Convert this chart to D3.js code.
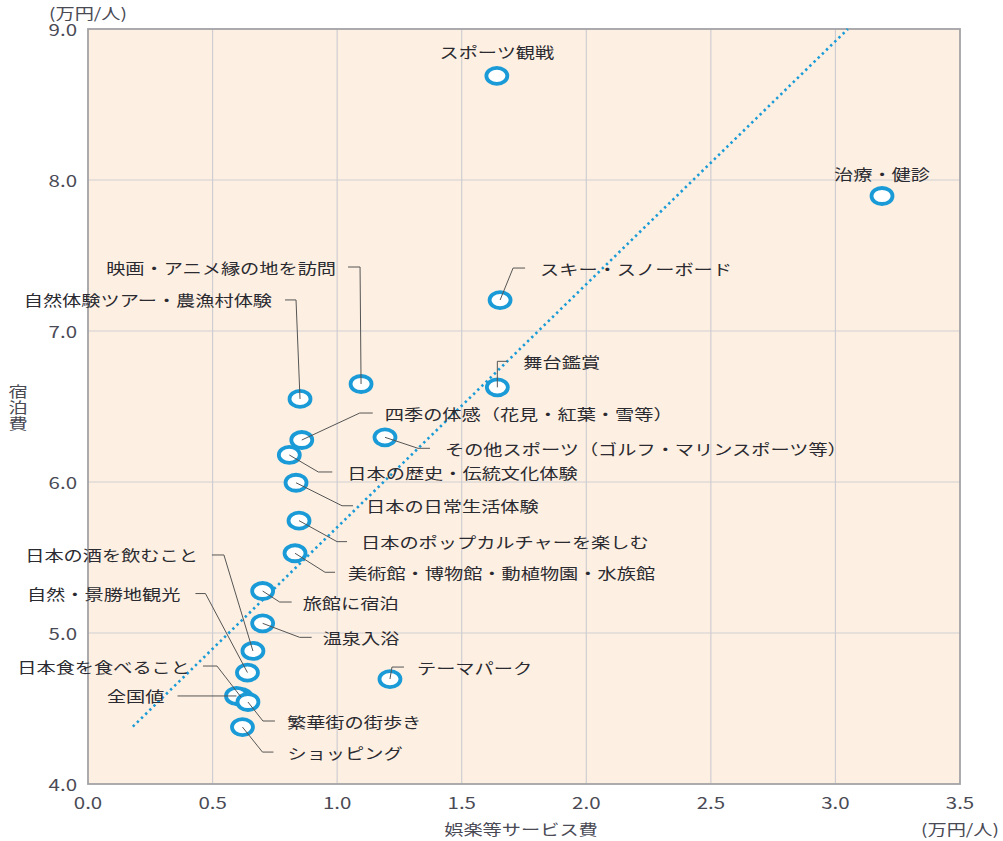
<!DOCTYPE html>
<html>
<head>
<meta charset="utf-8">
<script src="https://cdn.jsdelivr.net/npm/d3@7"></script>
<style>
  body { margin: 0; background: #fff; }
  text { font-family: "Noto Sans CJK JP", "Noto Sans", sans-serif; }
</style>
</head>
<body>
<svg id="main-svg" width="1003" height="841"></svg>
<script>
'use strict';

const categories = [
    'スポーツ観戦', '治療・健診', 'スキー・スノーボード', '映画・アニメ縁の地を訪問',
    '自然体験ツアー・農漁村体験', '舞台鑑賞', '四季の体感（花見・紅葉・雪等）',
    'その他スポーツ（ゴルフ・マリンスポーツ等）', '日本の歴史・伝統文化体験',
    '日本の日常生活体験', '日本のポップカルチャーを楽しむ',
    '美術館・博物館・動植物園・水族館', '旅館に宿泊', '温泉入浴', '日本の酒を飲むこと',
    '自然・景勝地観光', '日本食を食べること', '全国値', '繁華街の街歩き',
    'ショッピング', 'テーマパーク',
];
// 娯楽等サービス費 (万円/人)
const entertainment = [
    1.641, 3.187, 1.654, 1.096, 0.851, 1.643, 0.858, 1.192, 0.808, 0.835, 0.847,
    0.831, 0.701, 0.701, 0.662, 0.640, 0.614, 0.596, 0.642, 0.620, 1.212,
];
// 宿泊費 (万円/人)
const lodging = [
    8.69, 7.894, 7.205, 6.649, 6.55, 6.627, 6.278, 6.296, 6.179, 5.995, 5.744,
    5.528, 5.278, 5.064, 4.881, 4.738, 4.576, 4.583, 4.543, 4.377, 4.695,
];
const trend_x = [0.18, 3.05];
const trend_y = [4.38, 9.0];
const x_ticks = [0, 0.5, 1.0, 1.5, 2.0, 2.5, 3.0, 3.5];
const y_ticks = [4, 5, 6, 7, 8, 9];

// label placement, offsets from the point: [elbow dx, elbow dy, line end dx, text dx, anchor]
const label_layout = [
    [0, -24, 0, 0, 'middle'],
    [0, -23, 0, 0, 'middle'],
    [13, -32, 25, 40, 'start'],
    [-1, -117, -13, -25, 'end'],
    [-4, -99, -15, -28, 'end'],
    [0, -26, 10, 26, 'start'],
    [58, -27, 71, 83, 'start'],
    [33, 11, 45, 60, 'start'],
    [29, 17, 43, 58, 'start'],
    [46, 23, 57, 70, 'start'],
    [38, 21, 48, 62, 'start'],
    [30, 19, 40, 53, 'start'],
    [17, 11, 29, 40, 'start'],
    [37, 14, 49, 60, 'start'],
    [-29, -96, -41, -55, 'end'],
    [-42, -79, -52, -67, 'end'],
    [-24, -31, -38, -51, 'end'],
    [0, 0, -59, -72, 'end'],
    [15, 19, 27, 39, 'start'],
    [20, 25, 31, 45, 'start'],
    [2, -12, 14, 27, 'start'],
];

const colors = {
    'plot_bg': '#fdf0e2',
    'grid': '#cfcdd2',
    'frame': '#a3a2a6',
    'marker': '#1a9bd7',
    'leader': '#555',
    'label': '#2a2a30',
    'tick': '#4a4a55',
};

const sx = 1.28;  // the reference text is drawn a bit wide

const Render = () => {
    const svg = d3.select('#main-svg');
    const margin = {left: 88, top: 29, right: 43, bottom: 57};
    const width = 1003 - margin.left - margin.right;
    const height = 841 - margin.top - margin.bottom;

    const x = d3.scaleLinear().domain([0, 3.5]).range([margin.left, margin.left + width]);
    const y = d3.scaleLinear().domain([4, 9]).range([margin.top + height, margin.top]);

    const wide_text = (sel, tx, ty, str, size, fill, anchor) => {
        return sel.append('text')
            .attr('transform', `translate(${tx},${ty}) scale(${sx},1)`)
            .attr('text-anchor', anchor)
            .attr('dominant-baseline', 'central')
            .attr('font-size', size)
            .attr('fill', fill)
            .text(str);
    };

    return {
        draw: () => {
            svg.html(null);

            // plot background
            svg.append('rect')
                .attr('x', margin.left).attr('y', margin.top)
                .attr('width', width).attr('height', height)
                .attr('fill', colors.plot_bg);

            // grid
            const grid = svg.append('g');
            grid.selectAll('.vg')
                .data(x_ticks.slice(1, -1))
                .enter().append('line')
                .attr('x1', d => x(d)).attr('x2', d => x(d))
                .attr('y1', margin.top).attr('y2', margin.top + height)
                .attr('stroke', colors.grid).attr('stroke-width', 1.2);
            grid.selectAll('.hg')
                .data(y_ticks.slice(1, -1))
                .enter().append('line')
                .attr('x1', margin.left).attr('x2', margin.left + width)
                .attr('y1', d => y(d)).attr('y2', d => y(d))
                .attr('stroke', colors.grid).attr('stroke-width', 1.2);

            svg.append('rect')
                .attr('x', margin.left).attr('y', margin.top)
                .attr('width', width).attr('height', height)
                .attr('fill', 'none')
                .attr('stroke', colors.frame).attr('stroke-width', 1.8);

            // tick labels
            x_ticks.forEach(t => wide_text(svg, x(t), 802, d3.format('.1f')(t), 16, colors.tick, 'middle'));
            y_ticks.forEach(t => wide_text(svg, 77, y(t), d3.format('.1f')(t), 16, colors.tick, 'end'));

            // axis titles and units
            wide_text(svg, 88, 12, '(万円/人)', 15, colors.tick, 'middle');
            wide_text(svg, 960, 828, '(万円/人)', 15, colors.tick, 'middle');
            wide_text(svg, 521, 828, '娯楽等サービス費', 15, colors.tick, 'middle');
            svg.append('text')
                .attr('transform', `translate(18,384) scale(${sx},1)`)
                .attr('writing-mode', 'tb')
                .attr('glyph-orientation-vertical', 0)
                .attr('letter-spacing', 1)
                .attr('font-size', 15)
                .attr('fill', colors.tick)
                .text('宿泊費');

            // trend line
            svg.append('line')
                .attr('x1', x(trend_x[0])).attr('y1', y(trend_y[0]))
                .attr('x2', x(trend_x[1])).attr('y2', y(trend_y[1]))
                .attr('stroke', colors.marker)
                .attr('stroke-width', 2.6)
                .attr('stroke-dasharray', '2.4 3.4');

            const points = categories.map((name, i) => ({
                name: name,
                px: x(entertainment[i]),
                py: y(lodging[i]),
                layout: label_layout[i],
            }));

            // markers
            svg.append('g').selectAll('ellipse')
                .data(points)
                .enter().append('ellipse')
                .attr('cx', p => p.px).attr('cy', p => p.py)
                .attr('rx', 10.5).attr('ry', 8)
                .attr('fill', '#fff')
                .attr('stroke', colors.marker)
                .attr('stroke-width', 3.8);

            // leader lines
            svg.append('g').selectAll('polyline')
                .data(points.filter(p => p.layout[4] != 'middle'))
                .enter().append('polyline')
                .attr('points', p => {
                    const [ex, ey, hx] = p.layout;
                    return [[p.px, p.py], [p.px + ex, p.py + ey], [p.px + hx, p.py + ey]].join(' ');
                })
                .attr('fill', 'none')
                .attr('stroke', colors.leader)
                .attr('stroke-width', 1);

            // labels
            points.forEach(p => {
                const [, ey, , tx, anchor] = p.layout;
                wide_text(svg, p.px + tx, p.py + ey, p.name, 15, colors.label, anchor);
            });
        },
    }
}

const render = Render();
render.draw();
</script>
</body>
</html>
